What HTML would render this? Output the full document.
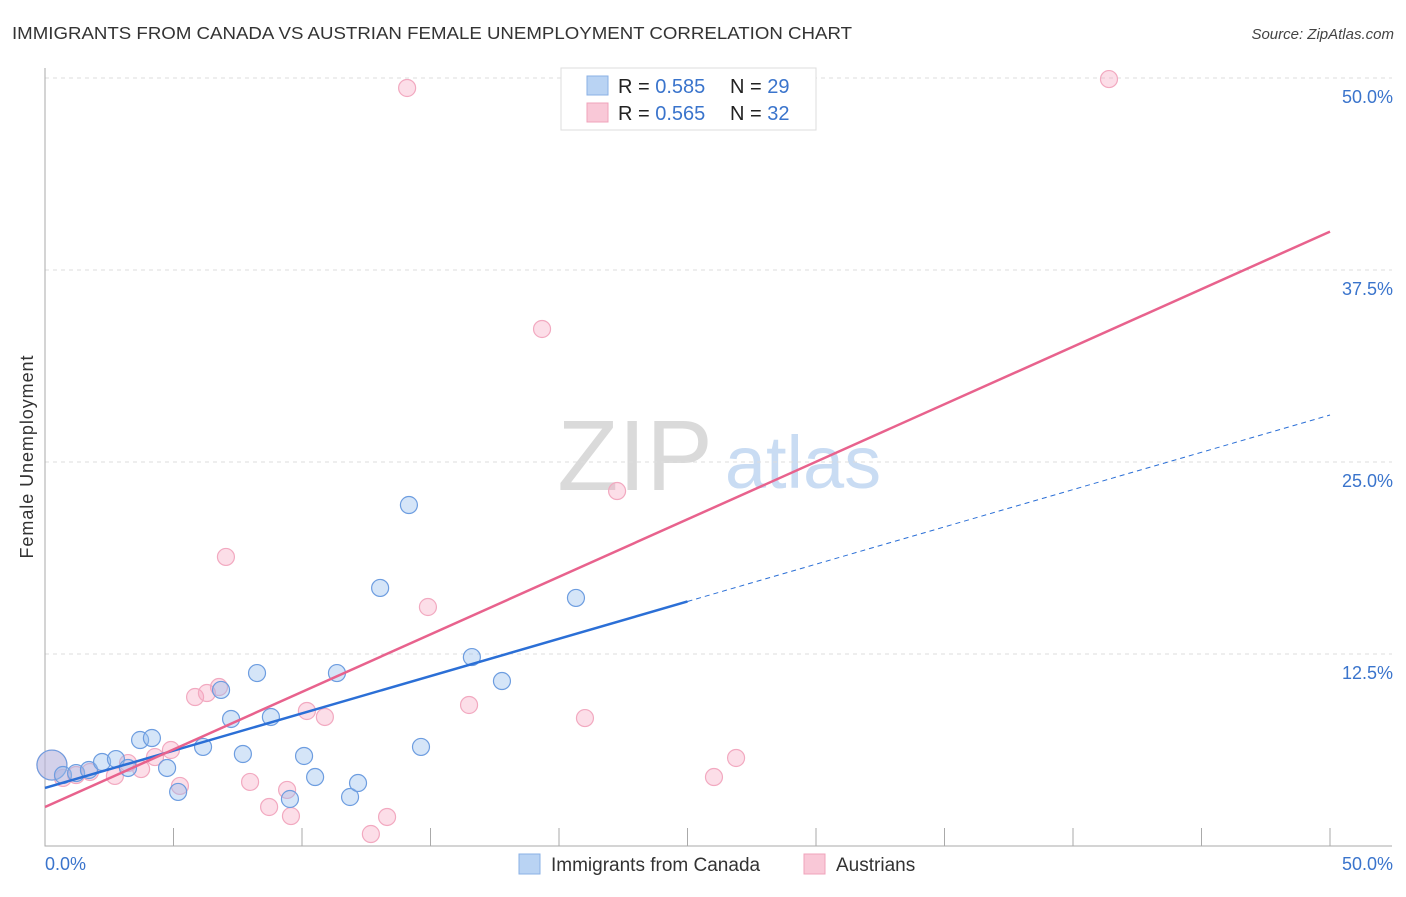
<!DOCTYPE html>
<html><head><meta charset="utf-8"><style>
body{margin:0;background:#fff;font-family:"Liberation Sans",sans-serif}
svg text{font-family:"Liberation Sans",sans-serif}
</style></head><body>
<svg id="c" width="1406" height="892">
<text x="12" y="39" font-size="17.5" fill="#333" textLength="840" lengthAdjust="spacingAndGlyphs">IMMIGRANTS FROM CANADA VS AUSTRIAN FEMALE UNEMPLOYMENT CORRELATION CHART</text>
<text x="1394" y="39" font-size="15" fill="#444" font-style="italic" text-anchor="end">Source: ZipAtlas.com</text>
<text x="33" y="457" font-size="18" fill="#333" text-anchor="middle" transform="rotate(-90 33 457)" textLength="203">Female Unemployment</text>
<g><text x="635" y="490" font-size="100" fill="#dadada" font-family="Liberation Serif" text-anchor="middle">ZIP</text><text x="803" y="488" font-size="74" fill="#c9dcf3" text-anchor="middle">atlas</text></g>
<g id="grid"></g><g id="marks"></g>
<g>
<rect x="561" y="68" width="255" height="62" fill="#fff" stroke="#ddd"/>
<rect x="587" y="76" width="21" height="19" fill="#b9d3f3" stroke="#8ab0e6"/>
<rect x="587" y="103" width="21" height="19" fill="#f9c8d7" stroke="#f0a3bb"/>
<text x="618" y="93" font-size="20" fill="#222">R = <tspan fill="#3a74cc">0.585</tspan></text>
<text x="730" y="93" font-size="20" fill="#222">N = <tspan fill="#3a74cc">29</tspan></text>
<text x="618" y="120" font-size="20" fill="#222">R = <tspan fill="#3a74cc">0.565</tspan></text>
<text x="730" y="120" font-size="20" fill="#222">N = <tspan fill="#3a74cc">32</tspan></text>
</g>
<g>
<rect x="519" y="854" width="21" height="20" fill="#b9d3f3" stroke="#8ab0e6"/>
<text x="551" y="871" font-size="19" fill="#333">Immigrants from Canada</text>
<rect x="804" y="854" width="21" height="20" fill="#f9c8d7" stroke="#f0a3bb"/>
<text x="836" y="871" font-size="19" fill="#333">Austrians</text>
</g>
</svg>
<script>
const yTicks=[12.5,25,37.5,50];
const yTickLabels=["12.5%","25.0%","37.5%","50.0%"];
const xTicks=[0,5,10,15,20,25,30,35,40,45,50];
const blueX=[0.27,0.70,1.21,1.71,2.22,2.76,3.23,3.70,4.16,4.75,5.18,6.15,6.85,7.24,7.70,8.25,8.79,9.53,10.08,10.51,11.36,11.87,12.18,13.04,14.16,14.63,16.61,17.78,20.66];
const blueY=[5.27,4.62,4.75,4.95,5.47,5.66,5.08,6.90,7.03,5.08,3.52,6.45,10.16,8.27,5.99,11.26,8.40,3.06,5.86,4.49,11.26,3.19,4.10,16.80,22.20,6.45,12.30,10.74,16.15];
const pinkX=[0.27,0.70,1.21,1.75,2.72,3.23,3.74,4.28,4.90,5.25,5.84,6.30,6.77,7.04,7.98,8.72,9.42,9.57,10.19,10.89,12.68,13.31,14.09,14.90,16.50,19.34,21.01,22.26,26.03,26.89,41.40];
const pinkY=[5.27,4.43,4.62,4.82,4.56,5.40,5.01,5.79,6.25,3.91,9.70,9.96,10.35,18.82,4.17,2.54,3.65,1.95,8.79,8.40,0.78,1.89,49.35,15.56,9.18,33.66,8.33,23.11,4.49,5.73,49.93];
const blueTrend=[3.78,28.06];
const pinkTrend=[2.54,40.0];
const blueSolidEnd=25;
const NS="http://www.w3.org/2000/svg";
const X=v=>45+v*25.7, Y=v=>846-v*15.36;
function mk(t,a,p){const e=document.createElementNS(NS,t);for(const k in a)e.setAttribute(k,a[k]);p.appendChild(e);return e;}
const g=document.getElementById('grid'),m=document.getElementById('marks');
yTicks.forEach((t,i)=>{
 const l=mk('line',{x1:45,x2:1392,y1:Y(t),y2:Y(t),stroke:'#ddd','stroke-dasharray':'4,4'},g);
 
 
 const tx=mk('text',{x:1393,y:Y(t)+25,'font-size':18,fill:'#3a74cc','text-anchor':'end'},g);
 tx.textContent=yTickLabels[i];
 
 
});
const ax=mk('path',{d:'M45,68V846H1392',stroke:'#aaa',fill:'none'},g);


xTicks.forEach(t=>{const l=mk('line',{x1:X(t),x2:X(t),y1:828,y2:846,stroke:'#aaa'},g);
 
 });
const x0=mk('text',{x:45,y:870,'font-size':18,fill:'#3a74cc'},g);x0.textContent='0.0%';


const x1=mk('text',{x:1393,y:870,'font-size':18,fill:'#3a74cc','text-anchor':'end'},g);x1.textContent='50.0%';


function pts(xs,ys,fill,stroke,name){xs.forEach((x,i)=>{const c=mk('circle',{cx:X(x),cy:Y(ys[i]),r:(i===0?15:8.5),fill:fill,stroke:stroke,'stroke-width':1.2},m);
 
 });}
pts(pinkX,pinkY,'rgba(245,160,188,0.35)','#f2a9c0','austrians-point');
pts(blueX,blueY,'rgba(150,190,238,0.4)','#6d9de0','canada-point');
const by=x=>blueTrend[0]+(blueTrend[1]-blueTrend[0])*x/50;
const bl=mk('line',{x1:X(0),y1:Y(by(0)),x2:X(blueSolidEnd),y2:Y(by(blueSolidEnd)),stroke:'#2b6fd6','stroke-width':2.5},m);


const bd=mk('line',{x1:X(blueSolidEnd),y1:Y(by(blueSolidEnd)),x2:X(50),y2:Y(by(50)),stroke:'#2b6fd6','stroke-width':1,'stroke-dasharray':'5,4'},m);


const pl=mk('line',{x1:X(0),y1:Y(pinkTrend[0]),x2:X(50),y2:Y(pinkTrend[1]),stroke:'#e8628d','stroke-width':2.5},m);


</script>
</body></html>
